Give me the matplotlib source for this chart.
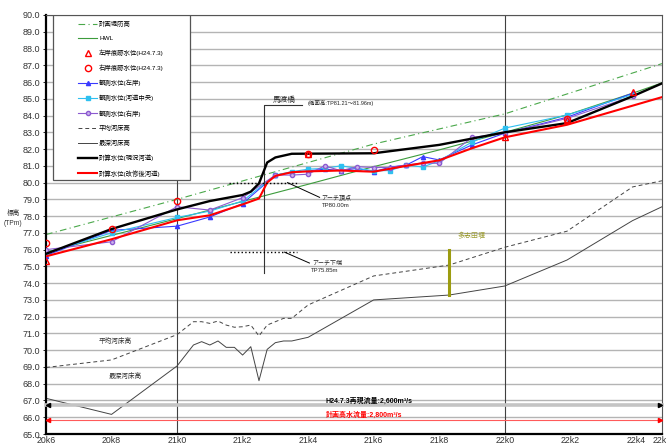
import numpy as np
import matplotlib.pyplot as plt
from matplotlib.patches import Rectangle

plt.rcParams['font.family'] = ['Liberation Sans', 'Noto Sans CJK JP', 'DejaVu Sans']

# 距離標 (km)
x_end = 22.48
tick_km = [20.6, 20.8, 21.0, 21.2, 21.4, 21.6, 21.8, 22.0, 22.2, 22.4, 22.48]
tick_lbl = ['20k6', '20k8', '21k0', '21k2', '21k4', '21k6', '21k8', '22k0', '22k2', '22k4', '22k5']

# 計画堤防高
levee_km = [20.6, 21.0, 21.6, 22.0, 22.48]
levee = [76.9, 79.0, 82.3, 84.1, 87.1]

# HWL
hwl_km = [20.6, 21.0, 21.4, 21.6, 21.8, 22.0, 22.2, 22.4, 22.48]
hwl = [75.85, 77.85, 79.9, 80.95, 81.95, 83.0, 84.1, 85.4, 85.95]

# 痕跡水位 (H24.7.3)
lt_km = [20.6, 21.4, 22.0, 22.19, 22.39]
lt_wl = [75.35, 81.7, 82.7, 83.75, 85.4]
rt_km = [20.6, 20.8, 21.0, 21.4, 21.6, 22.19]
rt_wl = [76.42, 77.22, 78.88, 81.7, 81.95, 83.8]

# 観測水位
obs_km = [20.6, 20.8, 21.0, 21.1, 21.2, 21.3, 21.35, 21.4, 21.45, 21.5,
          21.55, 21.6, 21.65, 21.7, 21.75, 21.8, 21.9, 22.0, 22.19, 22.39]
obs_left = [75.65, 77.15, 77.4, 77.95, 78.75, 80.45, 80.6, 80.7, 80.8, 80.72,
            80.85, 80.65, 80.92, 81.05, 81.55, 81.35, 82.25, 82.95, 83.9, 85.33]
obs_mid = [75.8, 77.0, 77.92, 78.3, 78.9, 80.45, 80.65, 80.8, 80.85, 81.0,
           80.85, 80.7, 80.72, 81.05, 80.93, 81.3, 82.42, 83.25, 84.03, 85.25]
obs_right = [76.0, 76.47, 78.56, 78.36, 79.1, 80.45, 80.45, 80.5, 81.0, 80.71,
             80.95, 80.9, 80.9, 81.05, 81.17, 81.15, 82.7, 82.94, 83.83, 85.15]

# 河床高
bed_km = [20.6, 20.8, 21.0, 21.05, 21.075, 21.1, 21.125, 21.15, 21.175, 21.2,
          21.225, 21.25, 21.275, 21.3, 21.325, 21.35, 21.4, 21.6, 21.83, 22.0,
          22.19, 22.39, 22.48]
bed_avg = [68.97, 69.42, 70.93, 71.7, 71.7, 71.6, 71.74, 71.5, 71.37, 71.4,
           71.5, 70.85, 71.5, 71.7, 71.9, 71.9, 72.7, 74.43, 75.08, 76.14,
           77.1, 79.74, 80.11]
bed_deep = [67.13, 66.17, 69.06, 70.31, 70.51, 70.31, 70.55, 70.17, 70.17, 69.71,
            70.21, 68.18, 70.05, 70.45, 70.55, 70.55, 70.77, 73.0, 73.29, 73.83,
            75.38, 77.73, 78.56]

# 計算水位
now_km = [20.6, 20.8, 21.0, 21.1, 21.2, 21.225, 21.25, 21.275, 21.3, 21.35,
          21.6, 21.8, 22.0, 22.19, 22.39, 22.48]
now_wl = [75.75, 77.23, 78.4, 78.9, 79.26, 79.46, 79.95, 81.2, 81.5, 81.72,
          81.75, 82.25, 83.0, 83.55, 85.15, 85.92]
new_km = [20.6, 20.8, 21.0, 21.1, 21.2, 21.25, 21.275, 21.3, 21.35, 21.4,
          21.5, 21.6, 21.7, 21.8, 21.9, 22.0, 22.19, 22.48]
new_wl = [75.6, 76.62, 77.75, 78.05, 78.7, 79.05, 80.0, 80.4, 80.62, 80.67,
          80.72, 80.65, 81.0, 81.33, 82.05, 82.7, 83.45, 85.1]

# 構造物
bridge_km = 21.265
arch_top = 80.00
arch_bottom = 75.85
weir_km = 21.83
weir_top = 76.0
weir_bottom = 73.29

fig = plt.figure(figsize=(6.66, 4.45), dpi=100)
ax = fig.add_axes([46/666, 11/445, 616/666, 419/445])

ax.set_xlim(20.6, x_end)
ax.set_ylim(65, 90)
ax.set_yticks(np.arange(65, 90.1, 1))
ax.set_yticklabels(['%.1f' % v for v in np.arange(65, 90.1, 1)], fontsize=6.5, color='#333333')
ax.set_xticks(tick_km)
ax.set_xticklabels(tick_lbl, fontsize=6.3, color='#333333')
ax.tick_params(axis='y', length=2, pad=2, width=0.6)
ax.tick_params(axis='x', length=0, pad=1.5)
ax.grid(axis='y', color='#b4b4b4', lw=1.0)
ax.set_axisbelow(True)
for s in ['left', 'bottom']:
    ax.spines[s].set_linewidth(1.6)
for s in ['top', 'right']:
    ax.spines[s].set_color('#555555')
    ax.spines[s].set_linewidth(0.8)

ax.axvline(21.0, color='#404040', lw=0.8, zorder=1)
ax.axvline(22.0, color='#404040', lw=0.8, zorder=1)

ax.plot(levee_km, levee, color='#4aa84a', lw=0.8, dashes=(6, 3, 1, 3), label='計画堤防高', zorder=2)
ax.plot(hwl_km, hwl, color='#3c9c3c', lw=0.8, label='HWL', zorder=2)
ax.plot(lt_km, lt_wl, ls='none', marker='^', ms=4.5, mfc='none', mec='red', mew=1.0,
        label='左岸痕跡水位(H24.7.3)', zorder=6)
ax.plot(rt_km, rt_wl, ls='none', marker='o', ms=4.5, mfc='none', mec='red', mew=1.0,
        label='右岸痕跡水位(H24.7.3)', zorder=6)
ax.plot(obs_km, obs_left, color='#3a3aff', lw=0.8, marker='^', ms=3, label='観測水位(左岸)', zorder=3)
ax.plot(obs_km, obs_mid, color='#2ec0f0', lw=0.8, marker='s', ms=3, label='観測水位(河道中央)', zorder=3)
ax.plot(obs_km, obs_right, color='#8c5ad0', lw=0.8, marker='o', ms=3, mfc='#c9b3ec',
        label='観測水位(右岸)', zorder=3)
ax.plot(bed_km, bed_avg, color='#444444', lw=0.7, dashes=(4, 3), label='平均河床高', zorder=2)
ax.plot(bed_km, bed_deep, color='#444444', lw=0.7, label='最深河床高', zorder=2)
ax.plot(now_km, now_wl, color='black', lw=1.7, label='計算水位(現況河道)', zorder=4)
ax.plot(new_km, new_wl, color='red', lw=1.5, label='計算水位(改修後河道)', zorder=4)

# 馬渡橋
ax.plot([bridge_km, bridge_km, 21.38], [74.6, 84.63, 84.63], color='#333333', lw=0.8, zorder=3)
ax.text(21.328, 84.7, '馬渡橋', fontsize=5.5, ha='center', va='bottom', color='#222222')
ax.text(21.398, 84.72, '(橋面高:TP81.21～81.96m)', fontsize=4, ha='left', va='center', color='#222222')

# アーチ
ax.plot([21.16, 21.365], [arch_top, arch_top], color='black', lw=1.0, ls=':', zorder=5)
ax.plot([21.337, 21.435], [arch_top, 79.12], color='black', lw=0.7, zorder=5)
ax.text(21.441, 79.14, 'アーチ頂点', fontsize=4.3, va='center', color='#222222')
ax.text(21.441, 78.64, 'TP%.2fm' % arch_top, fontsize=4.3, va='center', color='#222222')
ax.plot([21.162, 21.365], [arch_bottom, arch_bottom], color='black', lw=1.0, ls=':', zorder=5)
ax.plot([21.328, 21.404], [arch_bottom, 75.2], color='black', lw=0.7, zorder=5)
ax.text(21.413, 75.2, 'アーチ下端', fontsize=4.3, va='center', color='#222222')
ax.text(21.41, 74.78, 'TP%.2fm' % arch_bottom, fontsize=4.3, va='center', color='#222222')

# 多志田堰
ax.plot([weir_km, weir_km], [weir_bottom, weir_top], color='#9c9c10', lw=2.2, zorder=5)
ax.text(21.9, 76.78, '多志田堰', fontsize=5, ha='center', va='center', color='#9c9c30')

ax.text(20.811, 70.5, '平均河床高', fontsize=4.8, ha='center', va='center', color='#333333')
ax.text(20.842, 68.42, '最深河床高', fontsize=4.8, ha='center', va='center', color='#333333')

# 流量
ax.plot([20.6, x_end], [66.73, 66.73], color='#c4c4c4', lw=2.6, zorder=3, clip_on=False)
ax.plot([20.605], [66.73], marker='<', ms=3, color='black', zorder=4, clip_on=False)
ax.plot([x_end - 0.005], [66.73], marker='>', ms=3, color='black', zorder=4, clip_on=False)
ax.text(21.453, 66.93, 'H24.7.3再現流量:2,600m³/s', fontsize=5, fontweight='bold', va='center', color='black')
ax.plot([20.6, x_end], [65.84, 65.84], color='#ff5a5a', lw=0.8, zorder=3, clip_on=False)
ax.plot([20.605], [65.84], marker='<', ms=3, color='red', zorder=4, clip_on=False)
ax.plot([x_end - 0.005], [65.84], marker='>', ms=3, color='red', zorder=4, clip_on=False)
ax.text(21.453, 66.13, '計画高水流量:2,800m³/s', fontsize=5, fontweight='bold', va='center', color='red')

# 凡例
ax.add_patch(Rectangle((7/616, (434-180)/419), 137/616, 165/419, transform=ax.transAxes,
                       facecolor='white', edgecolor='#555555', lw=0.9, zorder=7))
leg = ax.legend(loc='upper left', bbox_to_anchor=(0.052, 0.986), frameon=False,
                fontsize=4.6, handlelength=3.0, handletextpad=0.3, labelspacing=1.33,
                borderpad=0, borderaxespad=0)
leg.set_zorder(8)

fig.text(13/666, 1 - 213/445, '標高', fontsize=4.8, ha='center', va='center', color='#333333')
fig.text(13/666, 1 - 223/445, '(TPm)', fontsize=4.8, ha='center', va='center', color='#333333')

fig.savefig('out.png', dpi=100)
